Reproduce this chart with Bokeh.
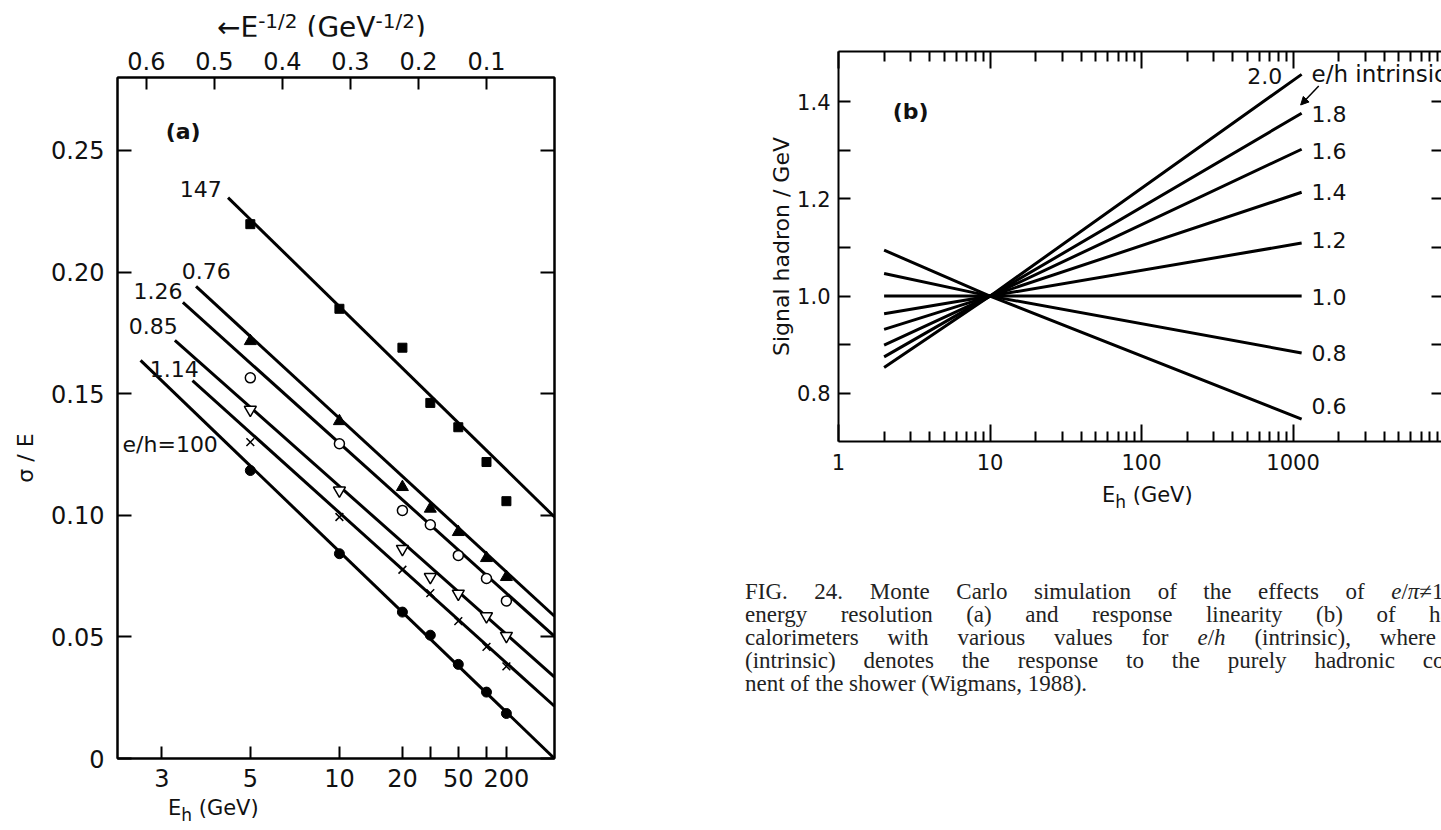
import numpy as np
from bokeh.plotting import figure
from bokeh.models import (Range1d, LinearAxis, LogAxis, FixedTicker, Label, Arrow,
                          NormalHead, Div, CustomJSTickFormatter)
from bokeh.layouts import row, column
from bokeh.embed import file_html
from bokeh.resources import INLINE

# ---------------- Panel (a): energy resolution ----------------
E_a = [5, 10, 20, 30, 50, 100, 200]                     # GeV
eh_a_labels = ["147", "0.76", "1.26", "0.85", "1.14", "e/h=100"]
res_147 = [0.2197, 0.1849, 0.1689, 0.1462, 0.1362, 0.1219, 0.1058]
res_076 = [0.1716, 0.1387, 0.1116, 0.1027, 0.0931, 0.0824, 0.0746]
res_126 = [0.1565, 0.1294, 0.1020, 0.0961, 0.0835, 0.0740, 0.0648]
res_085 = [0.1434, 0.1102, 0.0862, 0.0746, 0.0678, 0.0585, 0.0504]
res_114 = [0.1301, 0.0993, 0.0776, 0.0680, 0.0565, 0.0459, 0.0379]
res_100 = [0.1184, 0.0842, 0.0602, 0.0507, 0.0387, 0.0273, 0.0185]
# straight fit lines: start energy, sigma/E at start, sigma/E as E -> infinity
fit_start_E = [4.34, 3.60, 3.35, 3.21, 3.53, 2.70]
fit_start_res = [0.2306, 0.1941, 0.1875, 0.1719, 0.1554, 0.1637]
fit_limit_res = [0.0993, 0.0585, 0.0502, 0.0335, 0.0215, 0.0]

bottom_tick_E = [3, 5, 10, 20, 30, 50, 100, 200]
bottom_tick_text = ["3", "5", "10", "20", "", "50", "", "200"]
top_ticks = [0.6, 0.5, 0.4, 0.3, 0.2, 0.1]
left_ticks_a = [0.0, 0.05, 0.10, 0.15, 0.20, 0.25]
left_tick_text_a = ["0", "0.05", "0.10", "0.15", "0.20", "0.25"]

# ---------------- Panel (b): response linearity ----------------
E_b = [2, 10, 1140]                                     # GeV
eh_b_labels = ["0.6", "0.8", "1.0", "1.2", "1.4", "1.6", "1.8", "2.0"]
sig_06 = [1.0945, 1.0, 0.747]
sig_08 = [1.0466, 1.0, 0.883]
sig_10 = [1.0, 1.0, 1.0]
sig_12 = [0.9637, 1.0, 1.109]
sig_14 = [0.9316, 1.0, 1.2135]
sig_16 = [0.899, 1.0, 1.302]
sig_18 = [0.875, 1.0, 1.376]
sig_20 = [0.853, 1.0, 1.456]
left_ticks_b = [0.8, 0.9, 1.0, 1.1, 1.2, 1.3, 1.4]
left_tick_text_b = ["0.8", "", "1.0", "", "1.2", "", "1.4"]
major_E_b = [1, 10, 100, 1000]

FONT = "DejaVu Sans"
INK = "#111111"
NO_LABELS = "return ''"


def inv_sqrt(e):
    return 1.0 / np.sqrt(e)


def style_axis(ax, tick_in, size="24px", standoff=10, minor_in=0):
    ax.axis_line_color = "black"
    ax.axis_line_width = 2
    ax.major_tick_in = tick_in
    ax.major_tick_out = 0
    ax.major_tick_line_color = "black"
    ax.major_tick_line_width = 2
    ax.minor_tick_in = minor_in
    ax.minor_tick_out = 0
    ax.minor_tick_line_color = "black"
    ax.minor_tick_line_width = 2
    ax.major_label_text_font = FONT
    ax.major_label_text_font_size = size
    ax.major_label_text_color = INK
    ax.major_label_standoff = standoff


def label(p, x, y, text, size="22px", align="left", bold=False):
    p.add_layout(Label(x=x, y=y, text=text, text_font=FONT, text_font_size=size,
                       text_align=align, text_baseline="middle", text_color=INK,
                       text_font_style="bold" if bold else "normal"))


# ---------------- figure (a) ----------------
pa = figure(width=552, height=762, x_range=Range1d(0.6425, 0.0), y_range=Range1d(0.0, 0.28),
            output_backend="svg", toolbar_location=None,
            x_axis_location=None, y_axis_location=None,
            min_border_left=68, min_border_right=46, min_border_top=41, min_border_bottom=40)
pa.xgrid.visible = False
pa.ygrid.visible = False
pa.outline_line_color = "black"
pa.outline_line_width = 2
pa.background_fill_color = "white"
pa.border_fill_color = "white"

bx = [float(inv_sqrt(e)) for e in bottom_tick_E]
ax = LinearAxis(ticker=FixedTicker(ticks=bx), major_label_overrides=dict(zip(bx, bottom_tick_text)))
style_axis(ax, 12, standoff=10)
pa.add_layout(ax, "below")

ax = LinearAxis(ticker=FixedTicker(ticks=top_ticks))
style_axis(ax, 12, standoff=8)
pa.add_layout(ax, "above")

ax = LinearAxis(ticker=FixedTicker(ticks=left_ticks_a),
                major_label_overrides=dict(zip(left_ticks_a, left_tick_text_a)))
style_axis(ax, 14, standoff=13)
pa.add_layout(ax, "left")

ax = LinearAxis(ticker=FixedTicker(ticks=left_ticks_a), formatter=CustomJSTickFormatter(code=NO_LABELS))
style_axis(ax, 14, standoff=0)
pa.add_layout(ax, "right")

series_a = [res_147, res_076, res_126, res_085, res_114, res_100]
xa = [float(inv_sqrt(e)) for e in E_a]
for i in range(len(series_a)):
    pa.line([float(inv_sqrt(fit_start_E[i])), float(inv_sqrt(np.inf))],
            [fit_start_res[i], fit_limit_res[i]], line_color="black", line_width=3)

pa.scatter(xa, res_147, marker="square", size=9, fill_color="black", line_color="black")
pa.scatter(xa, res_076, marker="triangle", size=12, fill_color="black", line_color="black")
pa.scatter(xa, res_126, marker="circle", size=10, fill_color="white", line_color="black", line_width=1.5)
pa.scatter(xa, res_085, marker="inverted_triangle", size=12, fill_color="white", line_color="black", line_width=1.5)
pa.scatter(xa, res_114, marker="x", size=11, line_color="black", line_width=1.5)
pa.scatter(xa, res_100, marker="circle", size=10, fill_color="black", line_color="black")

# curve labels (a)
label(pa, 0.520, 0.234, eh_a_labels[0], align="center")
label(pa, 0.512, 0.2006, eh_a_labels[1], align="center")
label(pa, 0.583, 0.1924, eh_a_labels[2], align="center")
label(pa, 0.590, 0.178, eh_a_labels[3], align="center")
label(pa, 0.559, 0.160, eh_a_labels[4], align="center")
label(pa, 0.565, 0.129, eh_a_labels[5], align="center")
label(pa, 0.546, 0.258, "(a)", size="22px", align="center", bold=True)

txt_css = "position:absolute;white-space:nowrap;font-family:'DejaVu Sans';color:#111;"
sup = '<span style="position:relative;top:-9px;font-size:20px;">-1/2</span>'
sub_h = '<span style="position:relative;top:6px;font-size:17px;">h</span>'
top_a = Div(width=600, height=36, margin=0, text=(
    '<div style="position:relative;width:600px;height:36px;">'
    '<span style="' + txt_css + 'left:217px;top:14px;font-size:28px;line-height:28px;">'
    '\u2190E' + sup + ' (GeV' + sup + ')</span></div>'))
sig_div = Div(width=48, height=762, margin=0, text=(
    '<div style="position:relative;width:48px;height:762px;">'
    '<span style="' + txt_css + 'left:26px;top:422px;font-size:22px;line-height:22px;'
    'transform:translate(-50%,-50%) rotate(-90deg);">\u03c3 / E</span></div>'))
bot_a = Div(width=600, height=32, margin=0, text=(
    '<div style="position:relative;width:600px;height:32px;">'
    '<span style="' + txt_css + 'left:168px;top:0px;font-size:21px;line-height:21px;">'
    'E' + sub_h + '&nbsp;(GeV)</span></div>'))

# ---------------- figure (b) ----------------
pb = figure(width=841, height=480, x_axis_type="log", x_range=Range1d(1, 9550),
            y_range=Range1d(0.701, 1.503), output_backend="svg", toolbar_location=None,
            x_axis_location=None, y_axis_location=None,
            min_border_left=238, min_border_right=0, min_border_top=51, min_border_bottom=39)
pb.xgrid.visible = False
pb.ygrid.visible = False
pb.outline_line_color = None
pb.background_fill_color = "white"
pb.border_fill_color = "white"

minor_E_b = [m * d for d in major_E_b for m in range(2, 10)]
ax = LogAxis(ticker=FixedTicker(ticks=major_E_b, minor_ticks=minor_E_b),
             formatter=CustomJSTickFormatter(code="return String(tick)"))
style_axis(ax, 17, size="21px", standoff=12, minor_in=10)
pb.add_layout(ax, "below")
ax = LogAxis(ticker=FixedTicker(ticks=major_E_b, minor_ticks=minor_E_b),
             formatter=CustomJSTickFormatter(code=NO_LABELS))
style_axis(ax, 17, size="21px", standoff=0, minor_in=10)
pb.add_layout(ax, "above")

ax = LinearAxis(ticker=FixedTicker(ticks=left_ticks_b),
                major_label_overrides=dict(zip(left_ticks_b, left_tick_text_b)),
                axis_label="Signal hadron / GeV")
style_axis(ax, 12, size="21px", standoff=8)
ax.axis_label_text_font = FONT
ax.axis_label_text_font_size = "22px"
ax.axis_label_text_font_style = "normal"
ax.axis_label_text_color = INK
ax.axis_label_standoff = 0
pb.add_layout(ax, "left")
ax = LinearAxis(ticker=FixedTicker(ticks=left_ticks_b), formatter=CustomJSTickFormatter(code=NO_LABELS))
style_axis(ax, 10, size="21px", standoff=0)
ax.axis_line_color = None
pb.add_layout(ax, "right")

for sig in [sig_06, sig_08, sig_10, sig_12, sig_14, sig_16, sig_18, sig_20]:
    pb.line(E_b, sig, line_color="black", line_width=3)

label(pb, 850, 1.453, eh_b_labels[7], align="right")
label(pb, 1325, 1.457, "e/h intrinsic", size="23px")
for txt, yy in zip(eh_b_labels[:7][::-1], [1.374, 1.298, 1.214, 1.115, 0.998, 0.883, 0.774]):
    label(pb, 1325, yy, txt)
label(pb, 2.99, 1.38, "(b)", bold=True, align="center")
pb.add_layout(Arrow(end=NormalHead(size=8, fill_color="black", line_color="black"),
                    x_start=1478, y_start=1.432, x_end=1123, y_end=1.393,
                    line_color="black", line_width=1.5))

# ---------------- caption + x title of (b) ----------------
caption_lines = [
    "FIG. 24. Monte Carlo simulation of the effects of <i>e</i>/<i>\u03c0</i>\u22601 on",
    "energy resolution (a) and response linearity (b) of hadron",
    "calorimeters with various values for <i>e</i>/<i>h</i> (intrinsic), where <i>e</i>/<i>h</i>",
    "(intrinsic) denotes the response to the purely hadronic compo-",
]
caption_last = "nent of the shower (Wigmans, 1988)."
inner = "".join('<div style="text-align:justify;text-align-last:justify;">%s</div>' % t
                for t in caption_lines)
inner += '<div style="text-align:left;">%s</div>' % caption_last
html = ('<div style="position:relative;width:841px;height:350px;overflow:hidden;background:white;">'
        '<span style="' + txt_css + 'left:502px;top:3px;font-size:21px;line-height:24px;">'
        'E' + sub_h + '&nbsp;(GeV)</span>'
        '<div style="position:absolute;left:145px;top:100px;width:748px;'
        'font-family:\'Liberation Serif\',serif;font-size:23px;line-height:23px;color:#222;">'
        + inner + '</div></div>')
cap = Div(text=html, width=841, height=350, margin=0)

layout = row(column(top_a, row(sig_div, pa), bot_a), column(pb, cap))
open("out.html", "w").write(file_html(layout, INLINE))
